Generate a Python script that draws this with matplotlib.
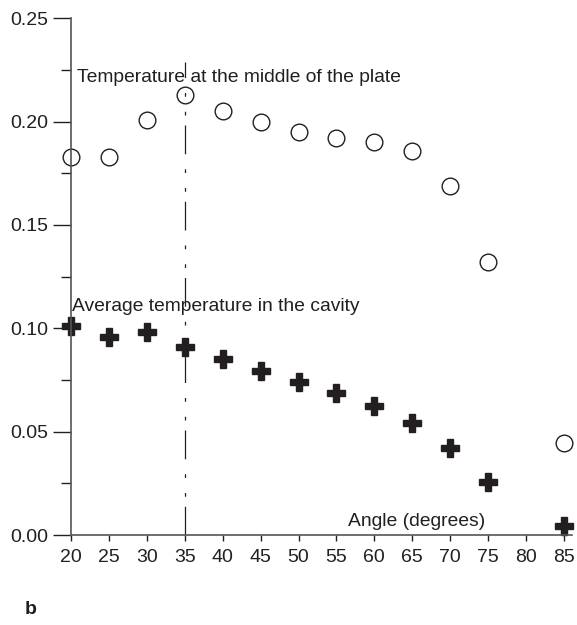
import matplotlib
matplotlib.use('Agg')
import matplotlib.pyplot as plt
from matplotlib.ticker import MultipleLocator

plt.rcParams['font.family'] = ['Liberation Sans', 'DejaVu Sans']

# углы (градусы)
angles_mid = [20, 25, 30, 35, 40, 45, 50, 55, 60, 65, 70, 75, 85]
temp_mid = [0.183, 0.183, 0.2005, 0.213, 0.205, 0.200, 0.195, 0.192, 0.190, 0.1855, 0.169, 0.132, 0.0445]

angles_avg = [20, 25, 30, 35, 40, 45, 50, 55, 60, 65, 70, 75, 85]
temp_avg = [0.101, 0.096, 0.098, 0.0911, 0.085, 0.0795, 0.074, 0.0686, 0.0625, 0.0542, 0.042, 0.0258, 0.0044]

x_ticks = [20, 25, 30, 35, 40, 45, 50, 55, 60, 65, 70, 75, 80, 85]
y_ticks = [0.00, 0.05, 0.10, 0.15, 0.20, 0.25]
mark_angle = 35
mark_top = 0.229

col = '#231f20'

fig = plt.figure(figsize=(5.77, 6.25), dpi=100)
ax = fig.add_axes([0.123, 0.144, 0.8676, 0.827])

ax.plot(angles_mid, temp_mid, 'o', mfc='none', mec=col, mew=1.0, ms=12, ls='none', clip_on=False)
ax.plot(angles_avg, temp_avg, 'P', color=col, mec=col, ms=13, ls='none', clip_on=False)

# вертикальная штрих-пунктирная линия
ax.plot([mark_angle, mark_angle], [0, mark_top], color=col, lw=0.9,
        dashes=(23, 8, 3, 12, 3, 12))

ax.text(20.8, 0.2215, 'Temperature at the middle of the plate', fontsize=13.9, color=col, va='center')
ax.text(20.1, 0.1104, 'Average temperature in the cavity', fontsize=13.9, color=col, va='center')
ax.text(56.5, 0.0064, 'Angle (degrees)', fontsize=13.9, color=col, va='center')

ax.set_xlim(20, 86)
ax.set_ylim(0, 0.25)
ax.set_xticks(x_ticks)
ax.set_yticks(y_ticks)
ax.set_yticklabels(['%.2f' % v for v in y_ticks])
ax.yaxis.set_minor_locator(MultipleLocator(0.025))

ax.spines['top'].set_visible(False)
ax.spines['right'].set_visible(False)
ax.spines['left'].set_color('#555555')
ax.spines['bottom'].set_color('#555555')
ax.spines['left'].set_linewidth(1.2)
ax.spines['bottom'].set_linewidth(1.2)

ax.tick_params(axis='y', which='major', length=13, width=1.0, labelsize=14, colors=col, direction='out', pad=3)
ax.tick_params(axis='y', which='minor', length=7, width=1.0, colors=col, direction='out')
ax.tick_params(axis='x', which='major', length=4, width=1.0, labelsize=14, colors=col, direction='out', pad=6)

fig.text(0.043, 0.024, 'b', fontsize=14, fontweight='bold', color=col, va='center')

plt.savefig('out.png', dpi=100)
